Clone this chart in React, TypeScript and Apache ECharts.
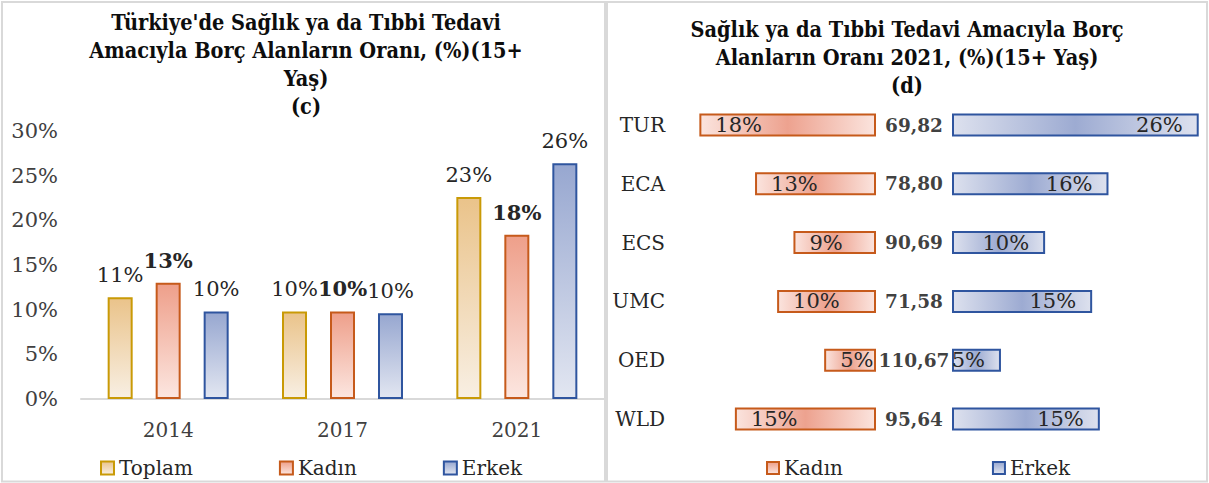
import React, { useEffect, useRef } from 'react';
import * as echarts from 'echarts';

// ---- Left chart (c) data ----
const years = ['2014', '2017', '2021'];
const toplam = [11.4, 9.8, 22.6];
const kadin = [13.0, 9.8, 18.4];
const erkek = [9.8, 9.6, 26.4];

// ---- Right chart (d) data ----
const regions = ['TUR', 'ECA', 'ECS', 'UMC', 'OED', 'WLD'];
const kadinR = [18.4, 12.6, 8.6, 10.3, 5.4, 14.7];
const erkekR = [25.7, 16.3, 9.7, 14.6, 5.1, 15.4];
const ratio = [69.82, 78.8, 90.69, 71.58, 110.67, 95.64];

const titleLeft = "Türkiye'de Sağlık ya da Tıbbi Tedavi\nAmacıyla Borç Alanların Oranı, (%)(15+\nYaş)\n(c)";
const titleRight = 'Sağlık ya da Tıbbi Tedavi Amacıyla Borç\nAlanların Oranı 2021, (%)(15+ Yaş)\n(d)';

const SERIF = '"DejaVu Serif", serif';
const COND = '"DejaVu Serif Condensed", "DejaVu Serif", serif';
const TXT = '#262626';

const C = {
  toplamB: '#C99A06', kadinB: '#C65A1B', erkekB: '#2F559F',
};

const vGrad = (top: string, bottom: string) =>
  new echarts.graphic.LinearGradient(0, 0, 0, 1, [
    { offset: 0, color: top },
    { offset: 1, color: bottom },
  ]);
const hGrad = (edge: string, mid: string) =>
  new echarts.graphic.LinearGradient(0, 0, 1, 0, [
    { offset: 0, color: edge },
    { offset: 0.5, color: mid },
    { offset: 1, color: edge },
  ]);

const pct = (p: any) => Math.round(p.value) + '%';

export default function App() {
  const ref = useRef<HTMLDivElement>(null);
  useEffect(() => {
    if (!ref.current) return;
    const chart = echarts.init(ref.current, null, { renderer: 'svg' });
    const leftBar = (name: string, data: number[], border: string, top: string, bottom: string, bold: boolean) => ({
      name,
      type: 'bar',
      xAxisIndex: 0,
      yAxisIndex: 0,
      data,
      barWidth: 25,
      barGap: '92%',
      itemStyle: { color: vGrad(top, bottom), borderColor: border, borderWidth: 2 },
      label: {
        show: true,
        position: 'top',
        distance: 12,
        formatter: pct,
        fontFamily: SERIF,
        fontSize: 21,
        fontWeight: bold ? 'bold' : 'normal',
        color: TXT,
      },
    });
    chart.setOption({
      animation: false,
      backgroundColor: '#ffffff',
      graphic: [
        { type: 'rect', silent: true, shape: { x: 2, y: 2, width: 603, height: 479.5 }, style: { fill: 'none', stroke: '#d9d9d9', lineWidth: 2 } },
        { type: 'rect', silent: true, shape: { x: 607, y: 2, width: 600, height: 479.5 }, style: { fill: 'none', stroke: '#d9d9d9', lineWidth: 2 } },
        {
          type: 'text', silent: true, x: 306, y: 8,
          style: { text: titleLeft, font: 'bold 21.5px ' + COND, fill: '#0d0d0d', textAlign: 'center', textVerticalAlign: 'top', lineHeight: 28 },
        },
        {
          type: 'text', silent: true, x: 907, y: 15,
          style: { text: titleRight, font: 'bold 21.5px ' + COND, fill: '#0d0d0d', textAlign: 'center', textVerticalAlign: 'top', lineHeight: 28 },
        },
      ],
      legend: [
        {
          left: 95, top: 452, icon: 'rect', itemWidth: 13, itemHeight: 13, itemGap: 86, selectedMode: false,
          textStyle: { fontFamily: SERIF, fontSize: 20, lineHeight: 22, color: TXT },
          data: ['Toplam', 'Kadın', 'Erkek'],
        },
        {
          left: 761, top: 452, icon: 'rect', itemWidth: 12, itemHeight: 12, itemGap: 149, selectedMode: false,
          textStyle: { fontFamily: SERIF, fontSize: 20, lineHeight: 22, color: TXT },
          data: ['Kadın', 'Erkek'],
        },
      ],
      grid: [
        { left: 81, right: 605, top: 131, bottom: 84 },
        { left: 684, right: 333, top: 95.6, bottom: 34.6 },
        { left: 952, right: 7.4, top: 95.6, bottom: 34.6 },
      ],
      xAxis: [
        {
          gridIndex: 0, type: 'category', data: years,
          axisLine: { lineStyle: { color: '#d9d9d9', width: 2 } },
          axisTick: { show: false },
          axisLabel: { fontFamily: SERIF, fontSize: 20, color: '#404040', margin: 21 },
        },
        { gridIndex: 1, type: 'value', min: 0, max: 20, inverse: true, show: false },
        { gridIndex: 2, type: 'value', min: 0, max: 26, show: false },
      ],
      yAxis: [
        {
          gridIndex: 0, type: 'value', min: 0, max: 30, interval: 5,
          axisLine: { show: false }, axisTick: { show: false }, splitLine: { show: false },
          axisLabel: { formatter: '{value}%', fontFamily: SERIF, fontSize: 21, color: '#404040', margin: 23 },
        },
        {
          gridIndex: 1, type: 'category', data: regions, inverse: true,
          axisLine: { show: false }, axisTick: { show: false },
          axisLabel: { fontFamily: SERIF, fontSize: 20, color: TXT, margin: 19 },
        },
        { gridIndex: 2, type: 'category', data: regions, inverse: true, show: false },
      ],
      series: [
        leftBar('Toplam', toplam, C.toplamB, '#EAC38A', '#F8EFE3', false),
        leftBar('Kadın', kadin, C.kadinB, '#EE9F8A', '#FCE6E0', true),
        leftBar('Erkek', erkek, C.erkekB, '#97A7D0', '#E2E6F1', false),
        {
          name: 'Kadın', type: 'bar', xAxisIndex: 1, yAxisIndex: 1, data: kadinR, barWidth: 23,
          itemStyle: { color: hGrad('#FBE4DE', '#EDA28F'), borderColor: C.kadinB, borderWidth: 2 },
          label: { show: true, position: 'insideLeft', distance: 16, formatter: pct, fontFamily: SERIF, fontSize: 21, color: TXT },
        },
        {
          name: 'Erkek', type: 'bar', xAxisIndex: 2, yAxisIndex: 2, data: erkekR, barWidth: 23,
          itemStyle: { color: hGrad('#DDE1EE', '#9DABD2'), borderColor: C.erkekB, borderWidth: 2 },
          label: { show: true, position: 'insideRight', distance: 16, formatter: pct, fontFamily: SERIF, fontSize: 21, color: TXT },
        },
        {
          name: 'ratio', type: 'scatter', xAxisIndex: 2, yAxisIndex: 2, symbolSize: 1, clip: false,
          itemStyle: { color: 'rgba(0,0,0,0)' },
          data: ratio.map((v, i) => ({ value: [0, regions[i]], r: v })),
          label: {
            show: true, position: 'inside', offset: [-38, 0],
            formatter: (p: any) => ratio[p.dataIndex].toFixed(2).replace('.', ','),
            fontFamily: SERIF, fontSize: 18.5, fontWeight: 'bold', color: '#0d0d0d',
          },
        },
      ],
    });
    return () => chart.dispose();
  }, []);
  return (
    <div
      ref={ref}
      style={{ position: 'absolute', left: 0, top: 0, width: 1209, height: 483, background: '#fff' }}
    />
  );
}
